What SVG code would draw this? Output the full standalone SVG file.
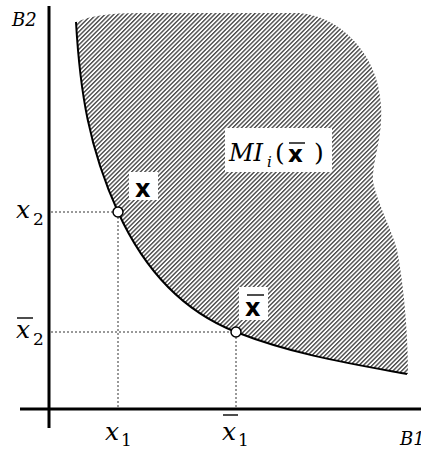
<svg xmlns="http://www.w3.org/2000/svg" width="421" height="449" viewBox="0 0 421 449">
<style>
.ax{stroke:#000;stroke-width:3;fill:none}
.dash{stroke:#333;stroke-width:1;stroke-dasharray:2,2;fill:none}
.curve{stroke:#000;stroke-width:2;fill:none}
.pt{fill:#fff;stroke:#000;stroke-width:1.5}
.it{font-family:'DejaVu Serif',serif;font-style:italic;fill:#000}
.rm{font-family:'DejaVu Serif',serif;fill:#000}
.bx{font-family:'DejaVu Sans',sans-serif;font-weight:bold;fill:#000}
.ob{stroke:#000;stroke-width:1.4}
.bg{fill:#fff}
</style>
<defs>
<pattern id="hatch" patternUnits="userSpaceOnUse" width="3.1" height="3.1" patternTransform="rotate(45)">
<rect x="0" y="0" width="3.1" height="3.1" fill="#fff"/>
<rect x="0" y="0" width="1.4" height="3.1" fill="#4a4a4a"/>
</pattern>
</defs>
<g id="region">
<path d="M 76 22 C 90 16 110 13 140 13 L 295 13 C 335 13 378 50 381 105 C 383 140 372 160 373 182 C 378 205 392 230 397 250 C 403 280 408 330 408 374 C 347 363 292 354 236 332 C 180 310 143 267 118 212 C 89 148 80 92 76 22 Z" fill="url(#hatch)" stroke="none"/>
</g>
<g id="axes">
<line class="ax" x1="49" y1="6" x2="49" y2="428"/>
<line class="ax" x1="20" y1="409" x2="421" y2="409"/>
<text class="it" x="12" y="26" font-size="18">B2</text>
<text class="it" x="400" y="445" font-size="18">B1</text>
</g>
<g id="connectors">
<line class="dash" x1="51" y1="212" x2="113" y2="212"/>
<line class="dash" x1="118" y1="217" x2="118" y2="407"/>
<line class="dash" x1="51" y1="332" x2="231" y2="332"/>
<line class="dash" x1="236" y1="337" x2="236" y2="407"/>
</g>
<g id="curve">
<path class="curve" d="M 76 22 C 80 92 89 148 118 212 C 143 267 180 310 236 332 C 292 354 347 363 407 374"/>
</g>
<g id="label-MI">
<rect class="bg" x="225" y="128" width="107" height="44"/>
<text class="it" x="229" y="161" font-size="24">MI</text>
<text class="it" x="267" y="167" font-size="15">i</text>
<text class="rm" x="275" y="161" font-size="25">(</text>
<text class="bx" x="288" y="162" font-size="23">x</text>
<line class="ob" x1="289" y1="143" x2="305" y2="143"/>
<text class="rm" x="314" y="161" font-size="25">)</text>
</g>
<g id="point-x">
<rect class="bg" x="129" y="172" width="29" height="28"/>
<text class="bx" x="135" y="197" font-size="24">x</text>
<circle class="pt" cx="118" cy="212" r="5"/>
</g>
<g id="point-xbar">
<rect class="bg" x="239" y="287" width="29" height="33"/>
<text class="bx" x="245" y="316" font-size="24">x</text>
<line class="ob" x1="247" y1="295" x2="264" y2="295"/>
<circle class="pt" cx="236" cy="332" r="5"/>
</g>
<g id="ticks">
<text class="it" x="16" y="218" font-size="25">x</text>
<text class="rm" x="33" y="225" font-size="17">2</text>
<text class="it" x="16" y="338" font-size="25">x</text>
<line class="ob" x1="17" y1="318" x2="33" y2="318"/>
<text class="rm" x="33" y="345" font-size="17">2</text>
<text class="it" x="105" y="440" font-size="25">x</text>
<text class="rm" x="121" y="446" font-size="17">1</text>
<text class="it" x="222" y="440" font-size="25">x</text>
<line class="ob" x1="223" y1="415" x2="238" y2="415"/>
<text class="rm" x="238" y="446" font-size="17">1</text>
</g>
</svg>
